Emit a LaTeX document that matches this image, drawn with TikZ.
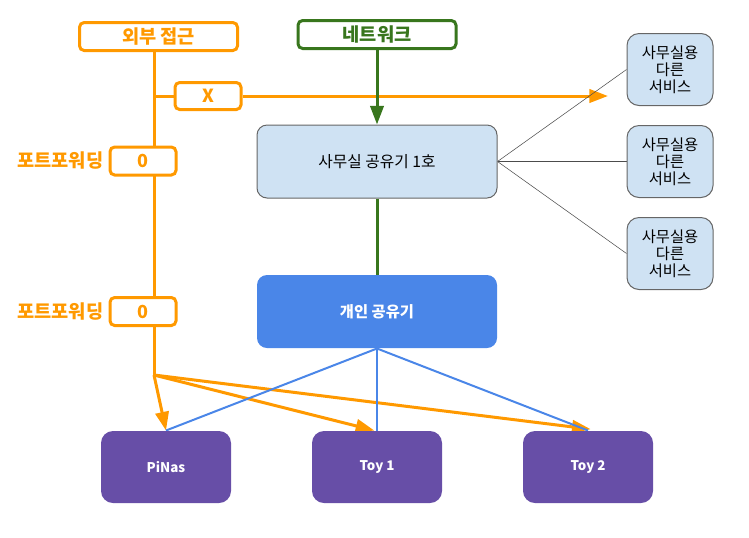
\documentclass[tikz,border=0pt]{standalone}
\usepackage{fontspec}
\setmainfont{Noto Sans CJK KR}
\usetikzlibrary{arrows.meta,positioning,backgrounds}

\definecolor{orng}{HTML}{FF9900}
\definecolor{grn}{HTML}{38761D}
\definecolor{lblue}{HTML}{CFE2F3}
\definecolor{gblue}{HTML}{4A86E8}
\definecolor{purp}{HTML}{674EA7}

\tikzset{every picture/.style={line width=0.75pt}}
\tikzset{
  tagbox/.style={draw=#1, line width=2.25pt, fill=white, rounded corners=3.5pt, text=#1,
    font=\bfseries\fontsize{13.5}{15}\selectfont, inner sep=0pt},
  officebox/.style={draw=black!60, fill=lblue, rounded corners=7.5pt, inner sep=0pt,
    minimum width=180pt, minimum height=54.75pt, font=\fontsize{11.8}{13}\selectfont},
  svcbox/.style={draw=black!60, fill=lblue, rounded corners=9pt, inner sep=0pt, align=center,
    minimum width=64.5pt, minimum height=54pt, font=\fontsize{11.5}{12.75}\selectfont},
  devbox/.style={fill=purp, rounded corners=9pt, inner sep=0pt, text=white,
    minimum width=97.5pt, minimum height=54pt, font=\bfseries\fontsize{10}{12}\selectfont},
  pflabel/.style={text=orng, font=\bfseries\fontsize{14}{15}\selectfont, inner sep=0pt},
  bigtip/.style={-{Triangle[length=14pt,width=10pt]}}
}

\begin{document}
\begin{tikzpicture}[x=0.75pt,y=0.75pt,yscale=-1,xscale=1]
\useasboundingbox (0,0) rectangle (749,537);

% Top boxes
\node [tagbox=orng, minimum width=118.5pt, minimum height=21pt, font=\bfseries\fontsize{14}{15}\selectfont] (ext) at (158.5,36.5) {외부 접근};
\node [tagbox=grn, minimum width=118.5pt, minimum height=21pt, font=\bfseries\fontsize{14}{15}\selectfont] (net) at (377,34.5) {네트워크};
\node [tagbox=orng, minimum width=49.5pt, minimum height=20.25pt] (xbox) at (208,96) {X};

% Port forwarding boxes
\node [tagbox=orng, minimum width=49.5pt, minimum height=21pt] (pf1) at (143,161) {0};
\node [pflabel, left=3.5pt of pf1] (pf1lbl) {포트포워딩};
\node [tagbox=orng, minimum width=49.5pt, minimum height=21pt] (pf2) at (143,311.5) {0};
\node [pflabel, left=3.5pt of pf2] (pf2lbl) {포트포워딩};

% Routers
\node [officebox] (office) at (377,161.5) {사무실 공유기 1호};
\node [officebox, draw=none, fill=gblue, text=white, font=\bfseries\fontsize{11.5}{13}\selectfont] (home) at (377,311.5) {개인 공유기};

% Office services
\node [svcbox] (svc1) at (670,69.5) {사무실용\\다른\\서비스};
\node [svcbox] (svc2) at (670,161.5) {사무실용\\다른\\서비스};
\node [svcbox] (svc3) at (670,253.5) {사무실용\\다른\\서비스};

% Devices
\node [devbox] (pinas) at (166,467) {PiNas};
\node [devbox] (toy1) at (377,467) {Toy 1};
\node [devbox] (toy2) at (588,467) {Toy 2};

\coordinate (jn) at (154,375);
\coordinate (xtap) at (154,96);
\coordinate (xtip) at (608,96);

\begin{scope}[on background layer]
% Outside access
\draw [orng, line width=2.25pt] (ext.south -| jn) -- (jn);
\draw [orng, line width=2.25pt] (xtap) -- (xbox.west);
\draw [orng, line width=2.25pt, bigtip] (xbox.east) -- (xtip);
\draw [orng, line width=2.25pt, bigtip] (jn) -- (pinas.north);
\draw [orng, line width=2.25pt, bigtip] (jn) -- ([xshift=-2]toy1.north);
\draw [orng, line width=2.25pt, bigtip] (jn) -- ([xshift=2,yshift=-1]toy2.north);

% Network
\draw [grn, line width=2.25pt, bigtip] (net.south) -- (office.north);
\draw [grn, line width=2.25pt] (office.south) -- (home.north);

% Office lines
\draw [black!70] (office.east) -- (svc1.west);
\draw [black!70] (office.east) -- (svc2.west);
\draw [black!70] (office.east) -- (svc3.west);

% Home lines
\draw [gblue, line width=1.5pt] (home.south) -- (pinas.north);
\draw [gblue, line width=1.5pt] (home.south) -- (toy1.north);
\draw [gblue, line width=1.5pt] (home.south) -- (toy2.north);
\end{scope}

\end{tikzpicture}
\end{document}
